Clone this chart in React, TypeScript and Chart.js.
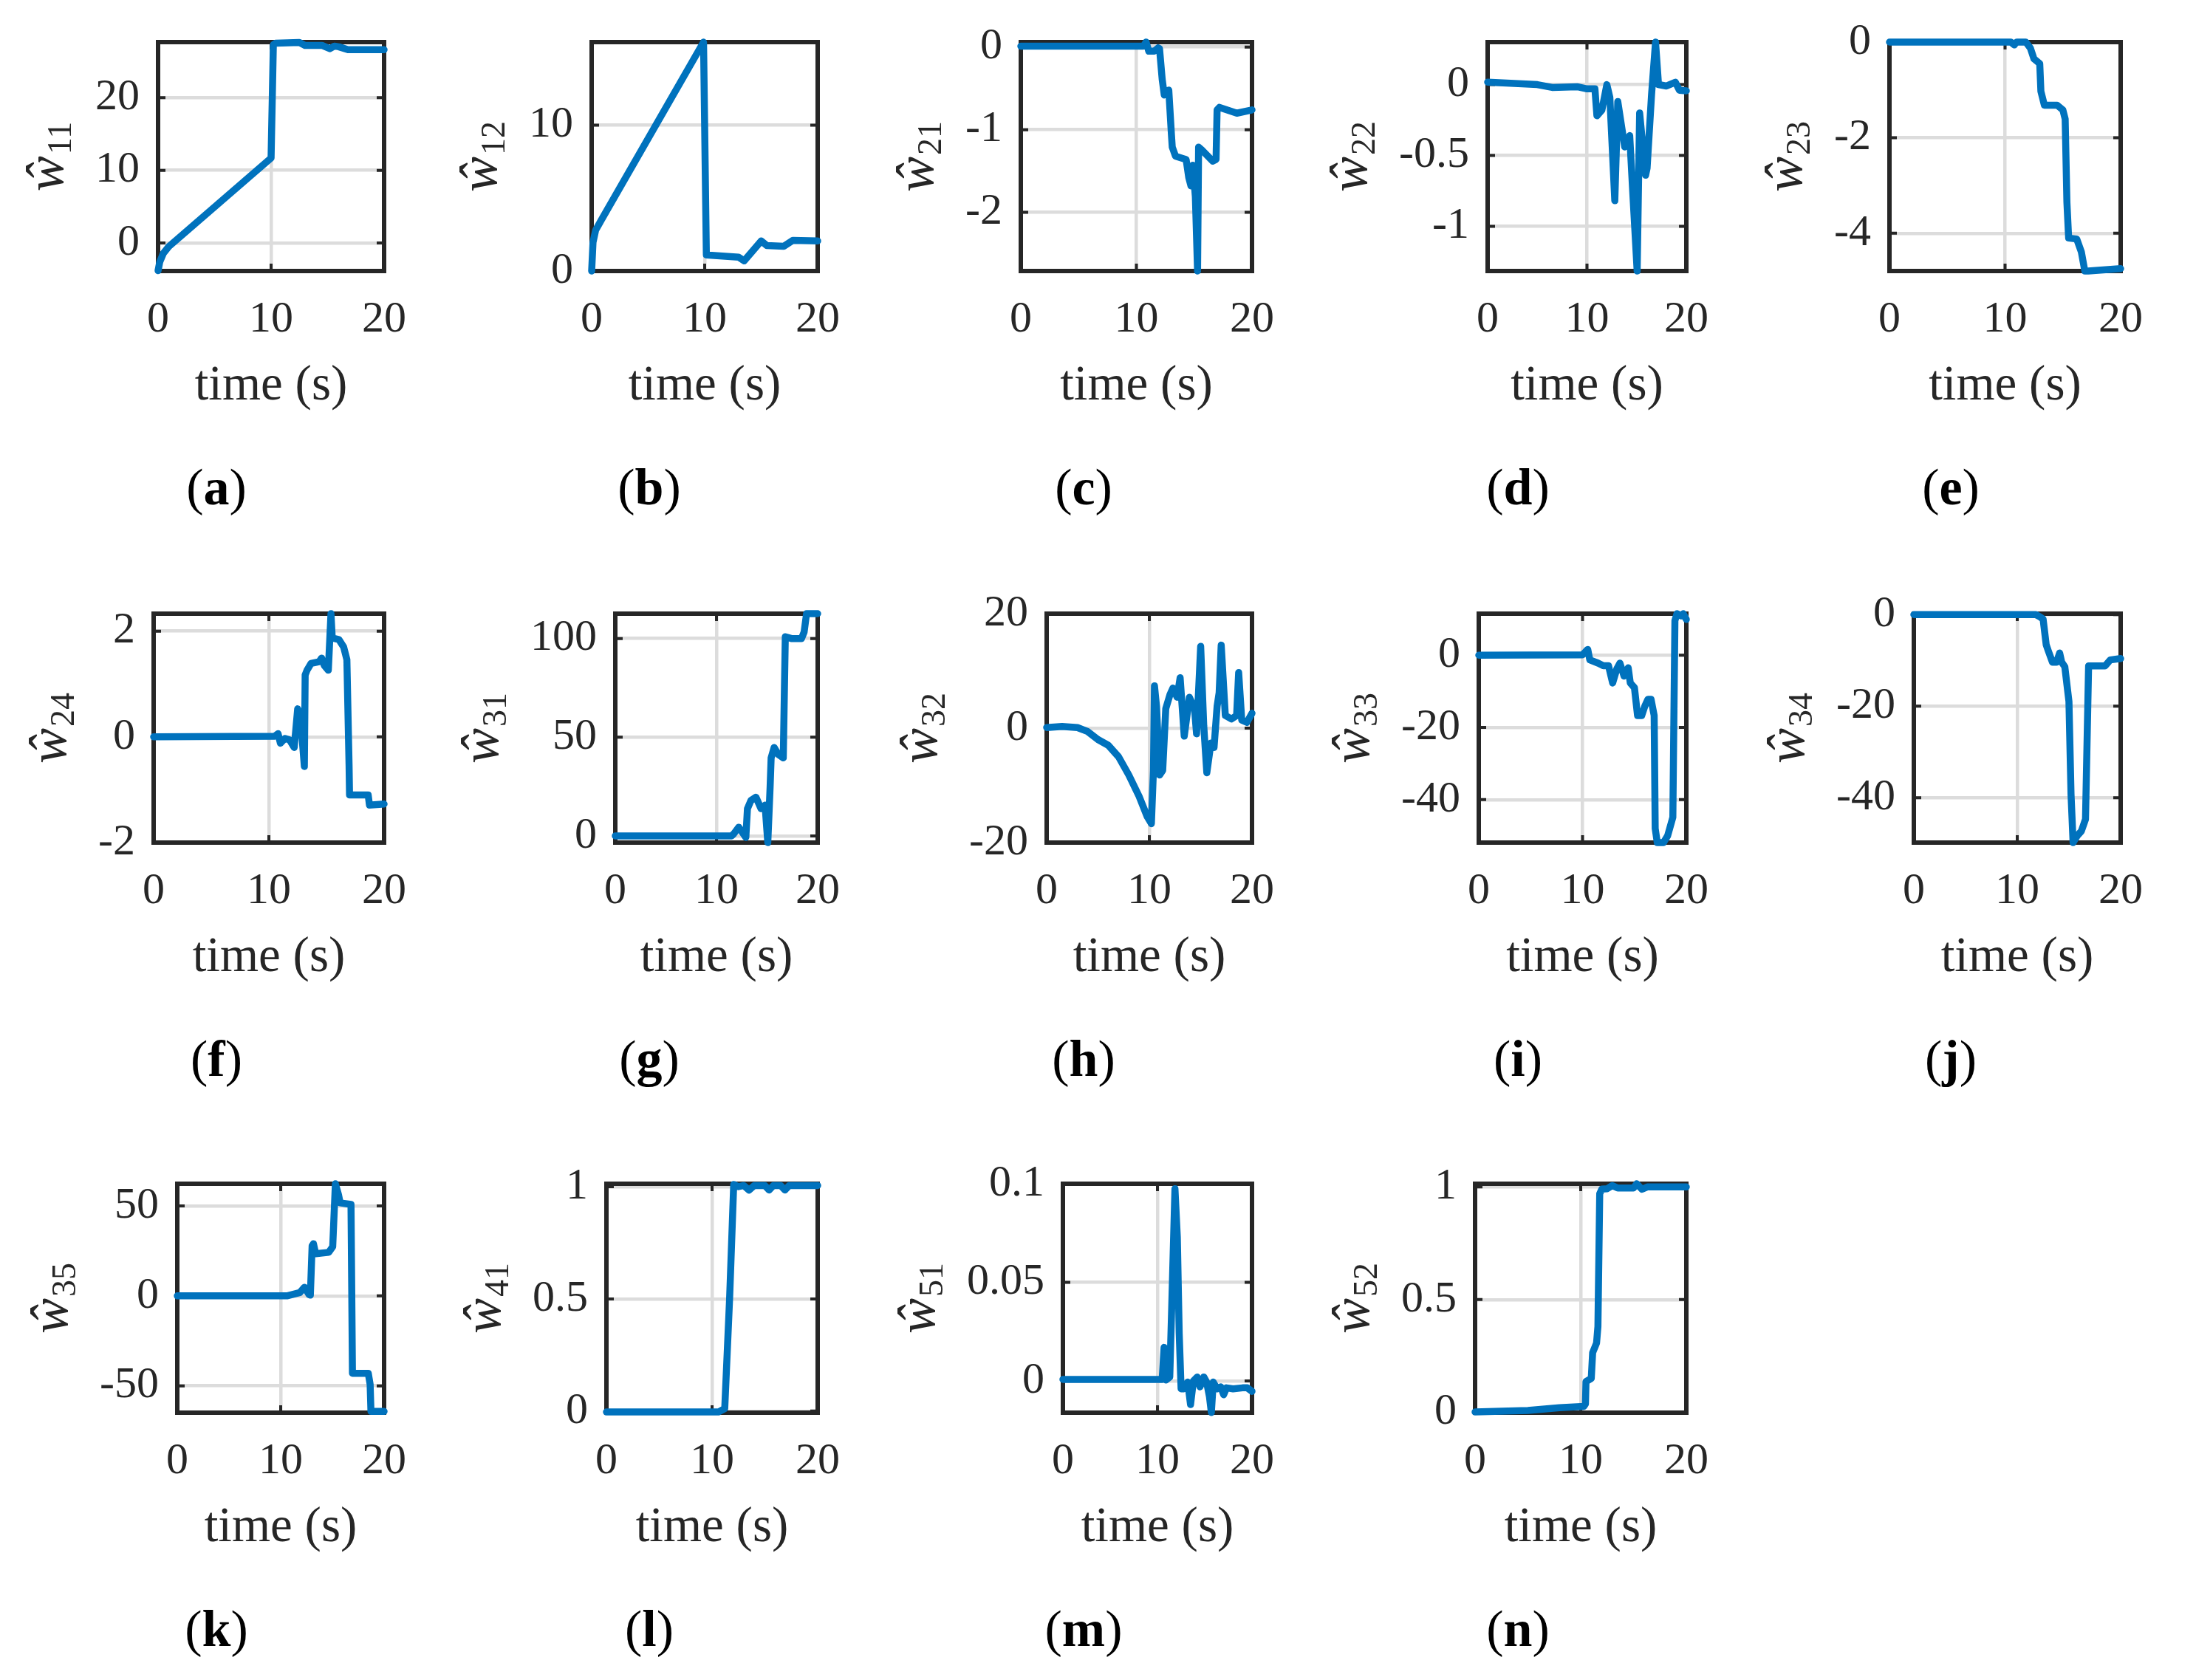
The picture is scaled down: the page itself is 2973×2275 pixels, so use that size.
import React, { useEffect, useRef } from 'react';
import { Chart, registerables } from 'chart.js';

Chart.register(...registerables);

// ---------------- data ----------------
const timeTicks = [0, 10, 20];
const xLabel = 'time (s)';

const w11Time = [0, 0.15, 0.47, 0.94, 10.0, 10.2, 10.4, 12.5, 13.0, 14.5, 15.2, 15.6, 16.0, 16.8, 20];
const w11Value = [-3.8, -2.6, -1.4, -0.5, 11.7, 27.3, 27.5, 27.6, 27.2, 27.2, 26.75, 27.1, 27.0, 26.6, 26.6];

const w12Time = [0, 0.12, 0.35, 0.82, 9.9, 10.15, 13.0, 13.5, 15.0, 15.5, 17.0, 17.8, 20];
const w12Value = [0, 1.96, 2.8, 3.45, 15.7, 1.1, 0.95, 0.7, 2.06, 1.75, 1.7, 2.1, 2.06];

const w21Time = [0, 10.6, 10.84, 11.07, 11.53, 11.88, 12.0, 12.23, 12.41, 12.8, 13.03, 13.1, 13.38, 14.3, 14.53, 14.72, 14.88, 15.1, 15.29, 15.38, 15.69, 16.6, 16.89, 16.98, 17.19, 18.69, 20];
const w21Value = [0.01, 0.01, 0.06, -0.05, -0.05, -0.01, -0.02, -0.39, -0.58, -0.52, -1.06, -1.21, -1.32, -1.36, -1.58, -1.68, -1.43, -1.81, -2.71, -1.21, -1.25, -1.38, -1.36, -0.76, -0.73, -0.8, -0.76];

const w22Time = [0, 5, 6.5, 9, 10, 10.8, 11.0, 11.5, 12.0, 12.3, 12.8, 13.1, 13.8, 14.3, 14.6, 15.05, 15.3, 15.9, 16.05, 16.5, 16.9, 17.2, 18.0, 18.9, 19.3, 20];
const w22Value = [0.017, 0, -0.02, -0.015, -0.03, -0.03, -0.22, -0.18, 0.0, -0.09, -0.82, -0.12, -0.44, -0.36, -0.75, -1.316, -0.2, -0.64, -0.59, -0.07, 0.3, 0.0, -0.01, 0.017, -0.04, -0.044];

const w23Time = [0, 10.5, 10.8, 11.0, 11.8, 12.2, 12.5, 13.0, 13.1, 13.4, 14.5, 15.0, 15.2, 15.35, 15.5, 16.2, 16.6, 16.9, 17.2, 20];
const w23Value = [0, 0, -0.06, 0, 0, -0.13, -0.35, -0.45, -1.03, -1.32, -1.32, -1.42, -1.61, -3.35, -4.1, -4.12, -4.39, -4.79, -4.79, -4.74];

const w24Time = [0, 10.5, 10.8, 11.0, 11.4, 11.8, 12.2, 12.5, 12.73, 13.08, 13.15, 13.31, 13.66, 14.35, 14.58, 14.81, 15.16, 15.39, 15.5, 16.08, 16.49, 16.77, 16.96, 17.0, 18.62, 18.73, 20];
const w24Value = [0, 0.01, 0.06, -0.12, -0.03, -0.06, -0.2, 0.53, 0.41, -0.56, 1.17, 1.26, 1.39, 1.42, 1.49, 1.35, 1.26, 2.33, 1.87, 1.84, 1.7, 1.46, -0.53, -1.1, -1.1, -1.29, -1.27];

const w31Time = [0, 11.5, 11.7, 12.2, 12.9, 13.06, 13.4, 13.9, 14.4, 14.8, 15.07, 15.3, 15.4, 15.7, 16.1, 16.6, 16.8, 17.4, 18.4, 18.66, 18.9, 20];
const w31Value = [0, 0, 1, 4.4, -0.8, 13.8, 17.9, 19.6, 13.8, 15.6, -3.4, 24.9, 39.5, 44.8, 41.3, 39.5, 100.9, 100, 100, 103.3, 112.6, 112.6];

const w32Time = [0, 1.5, 3, 4, 5, 6, 7, 8, 9, 9.8, 10.2, 10.4, 10.5, 10.7, 11.0, 11.3, 11.6, 12.0, 12.3, 12.7, 13.0, 13.4, 13.9, 14.4, 14.6, 15.0, 15.3, 15.6, 16.0, 16.3, 16.6, 16.8, 17.0, 17.4, 18.0, 18.5, 18.7, 19.0, 19.5, 20];
const w32Value = [0.1, 0.3, 0.1, -0.6, -2, -3, -5, -8.2, -11.9, -15.5, -16.7, -7.4, 7.4, 3.8, -8.2, -7.4, 3.4, 5.8, 7.0, 5.4, 8.8, -1.4, 5.4, 3.4, -1.0, 14.3, 0.4, -7.8, -2.6, -3.4, 3.8, 6.2, 14.5, 2.2, 1.6, 2.2, 9.7, 1.4, 1.0, 2.6];

const w33Time = [0, 10, 10.5, 10.7, 11.5, 12.0, 12.5, 12.9, 13.3, 13.6, 14.0, 14.4, 14.6, 15.0, 15.3, 15.7, 16.0, 16.3, 16.6, 16.9, 17.0, 17.2, 17.8, 18.2, 18.7, 18.9, 19.1, 19.5, 19.7, 20];
const w33Value = [0, 0.1, 1.6, -1.3, -2.2, -2.9, -2.9, -7.7, -3.8, -2.2, -5.8, -3.5, -7.7, -9, -16.7, -16.7, -14.1, -12.2, -12.2, -16.7, -48, -51.9, -51.9, -50, -44.9, 9.6, 11.5, 10.9, 11.5, 9.9];

const w34Time = [0, 11.8, 12.2, 12.5, 12.8, 13.0, 13.4, 13.8, 14.1, 14.3, 14.6, 15.0, 15.2, 15.4, 15.8, 16.2, 16.6, 16.9, 17.2, 18.5, 19.0, 20];
const w34Value = [0, 0, -0.5, -1, -6.6, -7.9, -10.4, -10.4, -8.4, -10.4, -11.4, -19, -39.2, -49.8, -48.3, -47.3, -44.7, -11.2, -11.2, -11.2, -9.9, -9.6];

const w35Time = [0, 10.6, 11.85, 12.3, 12.74, 12.87, 13.04, 13.17, 13.38, 14.65, 15.03, 15.29, 15.6, 15.75, 16.8, 16.94, 18.47, 18.65, 18.73, 20];
const w35Value = [0, 0, 1.8, 4.8, 0.7, 0.4, 27.8, 29, 23.4, 24.2, 27.3, 62.3, 56, 51.7, 50.8, -43, -43, -49.2, -64.2, -64.2];

const w41Time = [0, 10.6, 11.2, 11.66, 12.05, 12.5, 13.0, 13.5, 14.0, 15.0, 15.4, 15.8, 16.5, 16.9, 17.3, 20];
const w41Value = [-0.004, -0.004, 0.011, 0.5, 1.01, 1.0, 1.005, 0.985, 1.005, 1.005, 0.985, 1.005, 1.005, 0.985, 1.005, 1.005];

const w51Time = [0, 10.5, 10.7, 10.9, 11.3, 11.5, 11.85, 12.1, 12.3, 12.5, 12.8, 13.2, 13.5, 13.8, 14.2, 14.5, 14.9, 15.2, 15.5, 15.7, 15.9, 16.3, 16.7, 17.0, 17.3, 18, 19, 19.5, 20];
const w51Value = [0.0008, 0.0008, 0.017, 0.0005, 0.002, 0.036, 0.0975, 0.073, 0.024, -0.004, -0.004, -0.0006, -0.012, 0, 0.002, -0.003, 0.002, -0.0006, -0.008, -0.016, -0.0006, -0.004, -0.003, -0.007, -0.0035, -0.004, -0.0035, -0.0035, -0.0053];

const w52Time = [0, 5, 8, 10.3, 10.45, 10.5, 11.0, 11.13, 11.5, 11.63, 11.8, 12.0, 12.5, 13.0, 13.5, 15.0, 15.3, 15.8, 16.3, 20];
const w52Value = [0.001, 0.008, 0.02, 0.026, 0.037, 0.136, 0.15, 0.264, 0.307, 0.38, 0.97, 0.99, 0.992, 1.006, 0.995, 0.995, 1.014, 0.99, 1.0, 1.0];

// y-axis tick values
const w11Ticks = [0, 10, 20];
const w12Ticks = [0, 10];
const w21Ticks = [-2, -1, 0];
const w22Ticks = [-1, -0.5, 0];
const w23Ticks = [-4, -2, 0];
const w24Ticks = [-2, 0, 2];
const w31Ticks = [0, 50, 100];
const w32Ticks = [-20, 0, 20];
const w33Ticks = [-40, -20, 0];
const w34Ticks = [-40, -20, 0];
const w35Ticks = [-50, 0, 50];
const w41Ticks = [0, 0.5, 1];
const w51Ticks = [0, 0.05, 0.1];
const w52Ticks = [0, 0.5, 1];

// ---------------- styling / layout ----------------
const SERIF = "'Liberation Serif', 'Times New Roman', serif";
const BLUE = '#0072BD';
const AXIS = '#262626';
const GRID = '#dcdcdc';
const TICK_SIZE = 60;
const TITLE_SIZE = 67;
const ROW_TOPS = [36, 810, 1582];
const PLOT_H = 331;
const CAPTION_X = [293, 879, 1467, 2055, 2641];
const LEFT_SPACE = 240;
const RIGHT_SPACE = 40;
const TOP_SPACE = 40;
const BOTTOM_SPACE = 200;

type Panel = {
  sub: string;
  caption: string;
  t: number[];
  v: number[];
  yMin: number;
  yMax: number;
  yTicks: number[];
  plotLeft: number;
  plotRight: number;
  row: number;
  col: number;
};

const panels: Panel[] = [
  { sub: '11', caption: 'a', t: w11Time, v: w11Value, yMin: -3.85, yMax: 27.65, yTicks: w11Ticks, plotLeft: 214, plotRight: 540, row: 0, col: 0 },
  { sub: '12', caption: 'b', t: w12Time, v: w12Value, yMin: 0, yMax: 15.7, yTicks: w12Ticks, plotLeft: 801, plotRight: 1127, row: 0, col: 1 },
  { sub: '21', caption: 'c', t: w21Time, v: w21Value, yMin: -2.71, yMax: 0.06, yTicks: w21Ticks, plotLeft: 1382, plotRight: 1715, row: 0, col: 2 },
  { sub: '22', caption: 'd', t: w22Time, v: w22Value, yMin: -1.316, yMax: 0.3, yTicks: w22Ticks, plotLeft: 2014, plotRight: 2303, row: 0, col: 3 },
  { sub: '23', caption: 'e', t: w23Time, v: w23Value, yMin: -4.79, yMax: 0, yTicks: w23Ticks, plotLeft: 2558, plotRight: 2891, row: 0, col: 4 },
  { sub: '24', caption: 'f', t: w24Time, v: w24Value, yMin: -2, yMax: 2.33, yTicks: w24Ticks, plotLeft: 208, plotRight: 540, row: 1, col: 0 },
  { sub: '31', caption: 'g', t: w31Time, v: w31Value, yMin: -3.4, yMax: 112.6, yTicks: w31Ticks, plotLeft: 833, plotRight: 1127, row: 1, col: 1 },
  { sub: '32', caption: 'h', t: w32Time, v: w32Value, yMin: -20, yMax: 20, yTicks: w32Ticks, plotLeft: 1417, plotRight: 1715, row: 1, col: 2 },
  { sub: '33', caption: 'i', t: w33Time, v: w33Value, yMin: -51.9, yMax: 11.5, yTicks: w33Ticks, plotLeft: 2002, plotRight: 2303, row: 1, col: 3 },
  { sub: '34', caption: 'j', t: w34Time, v: w34Value, yMin: -49.8, yMax: 0.2, yTicks: w34Ticks, plotLeft: 2591, plotRight: 2891, row: 1, col: 4 },
  { sub: '35', caption: 'k', t: w35Time, v: w35Value, yMin: -64.9, yMax: 62.3, yTicks: w35Ticks, plotLeft: 240, plotRight: 540, row: 2, col: 0 },
  { sub: '41', caption: 'l', t: w41Time, v: w41Value, yMin: -0.007, yMax: 1.013, yTicks: w41Ticks, plotLeft: 821, plotRight: 1127, row: 2, col: 1 },
  { sub: '51', caption: 'm', t: w51Time, v: w51Value, yMin: -0.0161, yMax: 0.1, yTicks: w51Ticks, plotLeft: 1439, plotRight: 1715, row: 2, col: 2 },
  { sub: '52', caption: 'n', t: w52Time, v: w52Value, yMin: -0.002, yMax: 1.014, yTicks: w52Ticks, plotLeft: 1997, plotRight: 2303, row: 2, col: 3 },
];

// MATLAB-like box, inward tick marks and the hat-w y label
const matlabFrame = {
  id: 'matlabFrame',
  beforeDatasetsDraw(chart: any) {
    const { ctx, chartArea: a, scales } = chart;
    ctx.save();
    ctx.strokeStyle = AXIS;
    ctx.lineWidth = 4;
    const L = 10;
    ctx.beginPath();
    for (const tk of scales.y.ticks) {
      const py = scales.y.getPixelForValue(tk.value);
      ctx.moveTo(a.left, py); ctx.lineTo(a.left + L, py);
      ctx.moveTo(a.right, py); ctx.lineTo(a.right - L, py);
    }
    for (const tk of scales.x.ticks) {
      const px = scales.x.getPixelForValue(tk.value);
      ctx.moveTo(px, a.bottom); ctx.lineTo(px, a.bottom - L);
      ctx.moveTo(px, a.top); ctx.lineTo(px, a.top + L);
    }
    ctx.stroke();
    ctx.lineWidth = 6;
    ctx.strokeRect(a.left, a.top, a.right - a.left, a.bottom - a.top);
    ctx.restore();
  },
  afterDraw(chart: any, _args: any, opts: any) {
    const { ctx, chartArea: a, scales } = chart;
    ctx.save();
    ctx.font = `${TICK_SIZE}px ${SERIF}`;
    let maxW = 0;
    for (const tk of scales.y.ticks) {
      maxW = Math.max(maxW, ctx.measureText(String(tk.label)).width);
    }
    const baseX = a.left - 25 - maxW - 44;
    const cy = (a.top + a.bottom) / 2;
    ctx.translate(baseX, cy);
    ctx.rotate(-Math.PI / 2);
    ctx.fillStyle = AXIS;
    ctx.textAlign = 'left';
    ctx.textBaseline = 'alphabetic';
    const mainFont = `italic 72px ${SERIF}`;
    const subFont = `46px ${SERIF}`;
    ctx.font = mainFont;
    const wW = ctx.measureText('ŵ').width;
    ctx.font = subFont;
    const sW = ctx.measureText(opts.sub).width;
    const total = wW + 2 + sW;
    const x0 = -total / 2;
    ctx.font = mainFont;
    ctx.fillText('ŵ', x0, 0);
    ctx.font = subFont;
    ctx.fillText(opts.sub, x0 + wW + 2, 11);
    ctx.restore();
  },
};

function PanelChart({ p }: { p: Panel }) {
  const ref = useRef<HTMLCanvasElement | null>(null);
  const left = p.plotLeft - LEFT_SPACE;
  const top = ROW_TOPS[p.row] - TOP_SPACE;
  const width = p.plotRight - p.plotLeft + LEFT_SPACE + RIGHT_SPACE;
  const height = TOP_SPACE + PLOT_H + BOTTOM_SPACE;

  useEffect(() => {
    if (!ref.current) return;
    const chart = new Chart(ref.current, {
      type: 'line',
      data: {
        datasets: [
          {
            data: p.t.map((x, i) => ({ x, y: p.v[i] })),
            borderColor: BLUE,
            borderWidth: 9.5,
            pointRadius: 0,
            tension: 0,
            clip: false as any,
            borderJoinStyle: 'round',
            borderCapStyle: 'round',
          } as any,
        ],
      },
      options: {
        animation: false,
        responsive: false,
        devicePixelRatio: 1,
        layout: { padding: { left: 0, top: TOP_SPACE, right: RIGHT_SPACE, bottom: 0 } },
        plugins: {
          legend: { display: false },
          tooltip: { enabled: false },
          matlabFrame: { sub: p.sub },
        } as any,
        scales: {
          x: {
            type: 'linear',
            min: 0,
            max: 20,
            afterBuildTicks: (s: any) => { s.ticks = timeTicks.map((v) => ({ value: v })); },
            afterFit: (s: any) => { s.height = BOTTOM_SPACE; },
            grid: { color: GRID, lineWidth: 4.5, drawTicks: false },
            border: { display: false },
            ticks: {
              font: { family: SERIF, size: TICK_SIZE, lineHeight: 1.2 },
              color: AXIS,
              padding: 30,
              maxRotation: 0,
              autoSkip: false,
              callback: (v: any) => String(v),
            },
            title: {
              display: true,
              text: xLabel,
              font: { family: SERIF, size: TITLE_SIZE, lineHeight: 1.2 },
              color: AXIS,
              padding: { top: 0, bottom: 3 },
            },
          },
          y: {
            type: 'linear',
            min: p.yMin,
            max: p.yMax,
            afterBuildTicks: (s: any) => { s.ticks = p.yTicks.map((v) => ({ value: v })); },
            afterFit: (s: any) => { s.width = LEFT_SPACE; },
            grid: { color: GRID, lineWidth: 4.5, drawTicks: false },
            border: { display: false },
            ticks: {
              font: { family: SERIF, size: TICK_SIZE, lineHeight: 1.2 },
              color: AXIS,
              padding: 25,
              autoSkip: false,
              callback: (v: any) => String(v),
            },
          },
        },
      } as any,
      plugins: [matlabFrame as any],
    });
    return () => chart.destroy();
  }, []);

  return (
    <canvas
      ref={ref}
      width={width}
      height={height}
      style={{ position: 'absolute', left, top, width, height }}
    />
  );
}

export default function App() {
  return (
    <div
      style={{
        position: 'absolute',
        left: 0,
        top: 0,
        width: 2973,
        height: 2275,
        background: '#ffffff',
        overflow: 'hidden',
      }}
    >
      {panels.map((p) => (
        <PanelChart key={p.caption} p={p} />
      ))}
      {panels.map((p) => (
        <div
          key={'cap-' + p.caption}
          style={{
            position: 'absolute',
            left: CAPTION_X[p.col],
            top: ROW_TOPS[p.row] + PLOT_H + 298 - 5,
            transform: 'translate(-50%, -50%)',
            fontFamily: SERIF,
            fontSize: 70,
            lineHeight: 1,
            color: '#000',
            whiteSpace: 'nowrap',
          }}
        >
          (<b>{p.caption}</b>)
        </div>
      ))}
    </div>
  );
}
